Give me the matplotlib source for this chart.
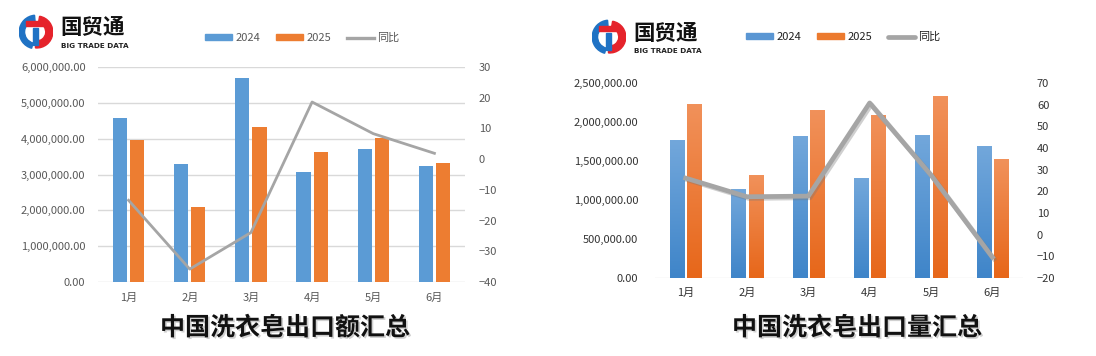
import numpy as np
import matplotlib.pyplot as plt
from matplotlib import patheffects
from matplotlib.patches import Wedge, Rectangle
from matplotlib.lines import Line2D
from matplotlib.colors import LinearSegmentedColormap
from matplotlib.ticker import FuncFormatter

plt.rcParams['font.family'] = ['Noto Sans CJK SC', 'DejaVu Sans']

months = ['1月', '2月', '3月', '4月', '5月', '6月']

# export value
value_2024 = [4590000, 3300000, 5700000, 3080000, 3720000, 3250000]
value_2025 = [3970000, 2100000, 4330000, 3640000, 4030000, 3330000]
value_yoy = [-13.4, -35.8, -23.9, 18.6, 8.3, 1.9]

# export quantity
qty_2024 = [1767000, 1129000, 1819000, 1282000, 1831000, 1691000]
qty_2025 = [2227000, 1320000, 2151000, 2078000, 2330000, 1525000]
qty_yoy = [26.1, 17.5, 17.8, 60.8, 27.5, -10.4]

W, H = 1096, 356
BLUE = '#5b9bd5'
ORANGE = '#ed7d31'
GRAY = '#a5a5a5'


def px_axes(fig, x0, y0, x1, y1):
    return fig.add_axes([x0 / W, 1 - y1 / H, (x1 - x0) / W, (y1 - y0) / H])


def draw_logo(fig, x, y):
    ax = px_axes(fig, x, y, x + 34, y + 42)
    ax.set_xlim(-1, 1)
    ax.set_ylim(-1.25, 1.25)
    ax.set_aspect('equal')
    ax.axis('off')
    ax.add_patch(Wedge((0, 0), 1, 95, 255, width=0.32, color='#1f72c4'))
    ax.add_patch(Wedge((0.05, 0), 0.95, -95, 80, width=0.42, color='#e5232b'))
    ax.add_patch(Rectangle((-0.6, 0.35), 1.0, 0.28, color='#e5232b'))
    ax.add_patch(Rectangle((-0.2, -0.75), 0.3, 1.0, color='#1f72c4'))
    fig.text((x + 41) / W, 1 - (y + 17) / H, '国贸通', fontsize=15.5, fontweight='bold',
             va='center', ha='left', color='#111111')
    fig.text((x + 42) / W, 1 - (y + 35) / H, 'BIG TRADE DATA', fontsize=5.2,
             fontweight='bold', va='center', ha='left', color='#222222',
             family=['DejaVu Sans'])


def gradient_bars(ax, xs, heights, width, top, bottom):
    cmap = LinearSegmentedColormap.from_list('g', [bottom, top])
    grad = np.linspace(0, 1, 64).reshape(-1, 1)
    for xc, hgt in zip(xs, heights):
        ax.imshow(grad, cmap=cmap, origin='lower', aspect='auto',
                  extent=(xc - width / 2, xc + width / 2, 0, hgt), zorder=2)


def style_ticks(ax, color):
    ax.tick_params(axis='both', length=0, labelsize=8, labelcolor=color)


fmt = FuncFormatter(lambda v, p: f'{v:,.2f}')
x = np.arange(len(months))
bw = 0.23
off = 0.14

fig = plt.figure(figsize=(W / 100, H / 100), dpi=100)

# ---- left chart: value ----
ax = px_axes(fig, 98, 67, 465, 282)
ax.bar(x - off, value_2024, bw, color=BLUE, zorder=2, label='2024')
ax.bar(x + off, value_2025, bw, color=ORANGE, zorder=2, label='2025')
ax.set_ylim(0, 6000000)
ax.set_yticks(np.arange(0, 6000001, 1000000))
ax.yaxis.set_major_formatter(fmt)
ax.set_xlim(-0.5, 5.5)
ax.set_xticks(x)
ax.set_xticklabels(months)
ax.grid(axis='y', color='#d9d9d9', linewidth=1)
for s in ax.spines.values():
    s.set_visible(False)
style_ticks(ax, '#595959')
ax.tick_params(axis='y', pad=9)
ax.tick_params(axis='x', pad=8)
ax2 = ax.twinx()
ax2.plot(x, value_yoy, color=GRAY, linewidth=2.0, label='同比', zorder=3)
ax2.set_ylim(-40, 30)
ax2.set_yticks(np.arange(-40, 31, 10))
for s in ax2.spines.values():
    s.set_visible(False)
style_ticks(ax2, '#595959')
ax2.tick_params(axis='y', pad=10)

handles = [Rectangle((0, 0), 1, 1, color=BLUE), Rectangle((0, 0), 1, 1, color=ORANGE),
           Line2D([], [], color=GRAY, linewidth=2.4)]
fig.legend(handles, ['2024', '2025', '同比'], loc='center', ncol=3,
           bbox_to_anchor=(302 / W, 1 - 38 / H), frameon=False, fontsize=8,
           handlelength=2.5, handleheight=0.45, handletextpad=0.25, columnspacing=1.4,
           labelcolor='#595959')

# ---- right chart: quantity ----
bx = px_axes(fig, 655, 83, 1023, 278)
bx.bar(x - off, qty_2024, bw, color=BLUE, zorder=1)
bx.bar(x + off, qty_2025, bw, color=ORANGE, zorder=1)
gradient_bars(bx, x - off, qty_2024, bw, '#72a7db', '#3f85c9')
gradient_bars(bx, x + off, qty_2025, bw, '#f1915a', '#e7671a')
bx.set_ylim(0, 2500000)
bx.set_yticks(np.arange(0, 2500001, 500000))
bx.yaxis.set_major_formatter(fmt)
bx.set_xlim(-0.5, 5.5)
bx.set_xticks(x)
bx.set_xticklabels(months)
for s in bx.spines.values():
    s.set_visible(False)
bx.axhline(0, color='#e6e6e6', linewidth=1, zorder=0)
style_ticks(bx, '#333333')
bx.tick_params(axis='y', pad=12)
bx.tick_params(axis='x', pad=7)
bx2 = bx.twinx()
shadow = [patheffects.SimpleLineShadow(offset=(1.2, -1.2), shadow_color='#777777', alpha=0.35),
          patheffects.Normal()]
bx2.plot(x, qty_yoy, color=GRAY, linewidth=3.4, path_effects=shadow, zorder=3)
bx2.set_ylim(-20, 70)
bx2.set_yticks(np.arange(-20, 71, 10))
for s in bx2.spines.values():
    s.set_visible(False)
style_ticks(bx2, '#333333')
bx2.tick_params(axis='y', pad=10)

handles2 = [Rectangle((0, 0), 1, 1, color='#5a96d3'), Rectangle((0, 0), 1, 1, color='#ec7a2e'),
            Line2D([], [], color=GRAY, linewidth=3.4, solid_capstyle='round')]
fig.legend(handles2, ['2024', '2025', '同比'], loc='center', ncol=3,
           bbox_to_anchor=(843 / W, 1 - 37 / H), frameon=False, fontsize=8,
           handlelength=2.5, handleheight=0.45, handletextpad=0.25, columnspacing=1.4,
           labelcolor='#222222')

# ---- logos and titles ----
draw_logo(fig, 19, 11)
draw_logo(fig, 592, 16)

title_fx = [patheffects.withSimplePatchShadow(offset=(1.2, -1.2), shadow_rgbFace='#666666', alpha=0.3)]
fig.text(285 / W, 1 - 328 / H, '中国洗衣皂出口额汇总', fontsize=18, fontweight='bold',
         ha='center', va='center', color='#111111', path_effects=title_fx)
fig.text(857 / W, 1 - 328 / H, '中国洗衣皂出口量汇总', fontsize=18, fontweight='bold',
         ha='center', va='center', color='#111111', path_effects=title_fx)

fig.savefig('out.png', dpi=100)
